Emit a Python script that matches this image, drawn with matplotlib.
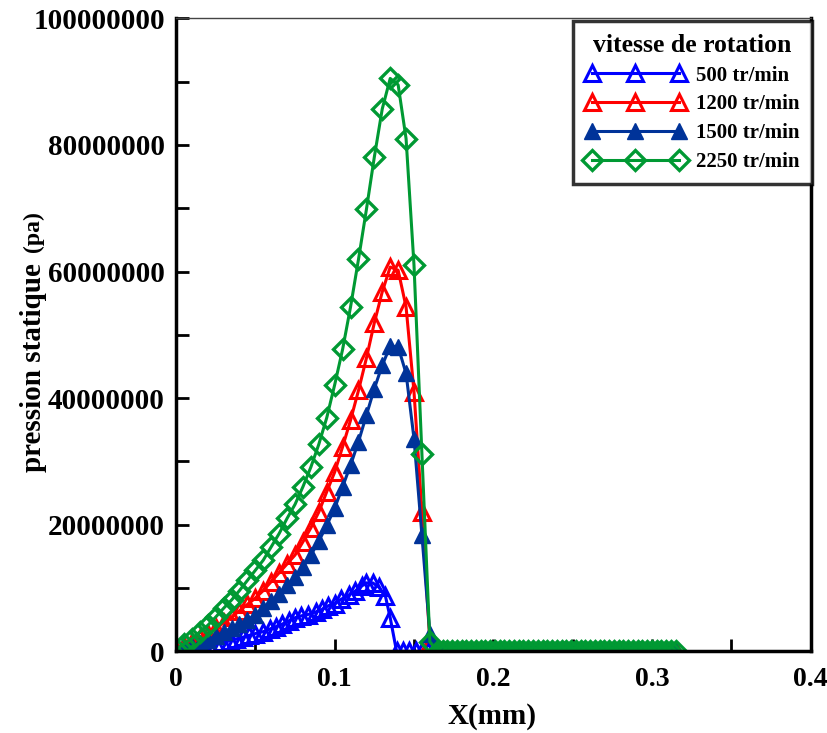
import matplotlib
matplotlib.use("Agg")
import matplotlib.pyplot as plt
from matplotlib.ticker import MultipleLocator

plt.rcParams["font.family"] = ["Liberation Serif", "DejaVu Serif"]
plt.rcParams["font.weight"] = "bold"

# common grid for 1200 / 1500 / 2250 tr/min (mm)
x_main = [0.000, 0.005, 0.010, 0.015, 0.020, 0.025, 0.030, 0.035, 0.040, 0.045,
          0.050, 0.055, 0.060, 0.065, 0.070, 0.075, 0.080, 0.085, 0.090, 0.095,
          0.100, 0.105, 0.110, 0.115, 0.120, 0.125, 0.130, 0.135, 0.140, 0.145,
          0.150, 0.155, 0.160]

# zero region after the contact
x_tail = [0.165, 0.168, 0.171, 0.174, 0.177, 0.180, 0.183, 0.186, 0.189, 0.192,
          0.195, 0.198, 0.201, 0.204, 0.207, 0.210, 0.213, 0.216, 0.219, 0.222,
          0.225, 0.228, 0.231, 0.234, 0.237, 0.240, 0.243, 0.246, 0.249, 0.252,
          0.255, 0.258, 0.261, 0.264, 0.267, 0.270, 0.273, 0.276, 0.279, 0.282,
          0.285, 0.288, 0.291, 0.294, 0.297, 0.300, 0.303, 0.306, 0.309, 0.312,
          0.315]
y_tail = [0.0] * len(x_tail)

# 500 tr/min has its own grid
x_500 = [0.000, 0.004, 0.008, 0.013, 0.017, 0.021, 0.025, 0.029, 0.034, 0.038,
         0.042, 0.046, 0.050, 0.055, 0.059, 0.063, 0.067, 0.071, 0.075, 0.079,
         0.083, 0.088, 0.092, 0.096, 0.100, 0.104, 0.109, 0.113, 0.117, 0.120,
         0.124, 0.128, 0.132, 0.135, 0.139, 0.143, 0.147, 0.151, 0.155, 0.159]
p_500 = [0.0, 0.15, 0.3, 0.5, 0.7, 0.9, 1.15, 1.4, 1.65, 1.95,
         2.2, 2.5, 2.8, 3.1, 3.5, 3.9, 4.3, 4.8, 5.3, 5.6,
         5.8, 6.2, 6.6, 7.2, 7.5, 8.2, 8.9, 9.5, 10.3, 10.8,
         10.8, 10.1, 8.7, 5.3, 0.0, 0.0, 0.0, 0.0, 0.0, 0.0]

# values in 1e6 Pa
p_1200 = [0.2, 0.8, 1.4, 2.1, 2.8, 3.6, 4.5, 5.4, 6.4, 7.4,
          8.4, 9.6, 11.0, 12.4, 13.8, 15.2, 17.3, 19.5, 22.0, 25.2,
          28.3, 32.3, 36.5, 41.2, 46.3, 51.9, 56.8, 60.7, 60.2, 54.4,
          41.0, 22.0, 1.5]
p_1500 = [0.0, 0.4, 0.8, 1.3, 1.8, 2.4, 3.0, 3.7, 4.3, 5.0,
          5.7, 6.8, 7.9, 9.1, 10.4, 11.7, 13.3, 15.2, 17.4, 19.9,
          22.6, 26.0, 29.4, 33.1, 37.3, 41.5, 45.2, 48.2, 48.1, 43.9,
          33.6, 18.3, 2.8]
p_2250 = [0.3, 1.2, 2.0, 3.05, 4.1, 5.4, 6.8, 8.1, 9.6, 11.2,
          12.8, 14.4, 16.5, 18.6, 21.0, 23.2, 26.0, 29.1, 32.7, 36.9,
          42.1, 47.7, 54.4, 61.9, 69.8, 78.1, 85.7, 90.5, 89.5, 81.0,
          61.0, 31.1, 1.5]

labels = ["500 tr/min", "1200 tr/min", "1500 tr/min", "2250 tr/min"]
colors = ["#0000ff", "#ff0000", "#003399", "#009933"]

fig = plt.figure(figsize=(8.28, 7.33), dpi=100)
ax = fig.add_axes([0.2126, 0.1115, 0.7664, 0.8635])

series = [(x_500, p_500), (x_main, p_1200), (x_main, p_1500), (x_main, p_2250)]
for i, (xs, ps) in enumerate(series):
    xx = list(xs) + x_tail
    yy = [v * 1e6 for v in ps] + y_tail
    if i == 3:
        ax.plot(xx, yy, color=colors[i], lw=2.2, marker="D", ms=10,
                mfc="none", mew=2.4, label=labels[i])
    elif i == 2:
        ax.plot(xx, yy, color=colors[i], lw=2.2, marker="^", ms=12,
                mfc=colors[i], mec=colors[i], label=labels[i])
    else:
        ax.plot(xx, yy, color=colors[i], lw=2.2, marker="^", ms=11,
                mfc="none", mew=2.2, label=labels[i])

ax.set_xlim(0, 0.4)
ax.set_ylim(0, 100000000)
ax.xaxis.set_major_locator(MultipleLocator(0.1))
ax.xaxis.set_minor_locator(MultipleLocator(0.05))
ax.yaxis.set_major_locator(MultipleLocator(20000000))
ax.yaxis.set_minor_locator(MultipleLocator(10000000))
ax.xaxis.set_major_formatter(plt.FuncFormatter(lambda v, p: "0" if v == 0 else f"{v:.1f}"))
ax.yaxis.set_major_formatter(plt.FuncFormatter(lambda v, p: f"{int(round(v))}"))
ax.tick_params(which="both", direction="in", top=False, right=False, width=2)
ax.tick_params(which="major", length=9)
ax.tick_params(which="minor", length=9)
ax.tick_params(axis="y", labelsize=21, pad=8)
ax.tick_params(axis="x", labelsize=20, pad=11)
for lab in ax.get_xticklabels() + ax.get_yticklabels():
    lab.set_fontweight("bold")

for side in ["left", "bottom", "right"]:
    ax.spines[side].set_linewidth(2.5)
ax.spines["top"].set_linewidth(1)
ax.spines["top"].set_color("#444444")

fig.text(0.594, 0.022, "X(mm)", ha="center", va="center", fontsize=21, fontweight="bold")
fig.text(0.040, 0.498, "pression statique", rotation=90, ha="center", va="center",
         fontsize=21, fontweight="bold")
fig.text(0.040, 0.684, "(pa)", rotation=90, ha="center", va="center",
         fontsize=17, fontweight="bold")

leg = ax.legend(title="vitesse de rotation", loc="upper right", numpoints=3,
                bbox_to_anchor=(1.002, 0.995), borderaxespad=0,
                handlelength=4.8, fontsize=15, title_fontsize=18.5, frameon=True,
                fancybox=False, labelspacing=0.42,
                handletextpad=0.5, borderpad=0.6)
leg.get_frame().set_edgecolor("black")
leg.get_frame().set_linewidth(2.5)
leg.get_title().set_fontweight("bold")
for t in leg.get_texts():
    t.set_fontweight("bold")

plt.savefig("out.png", dpi=100)
